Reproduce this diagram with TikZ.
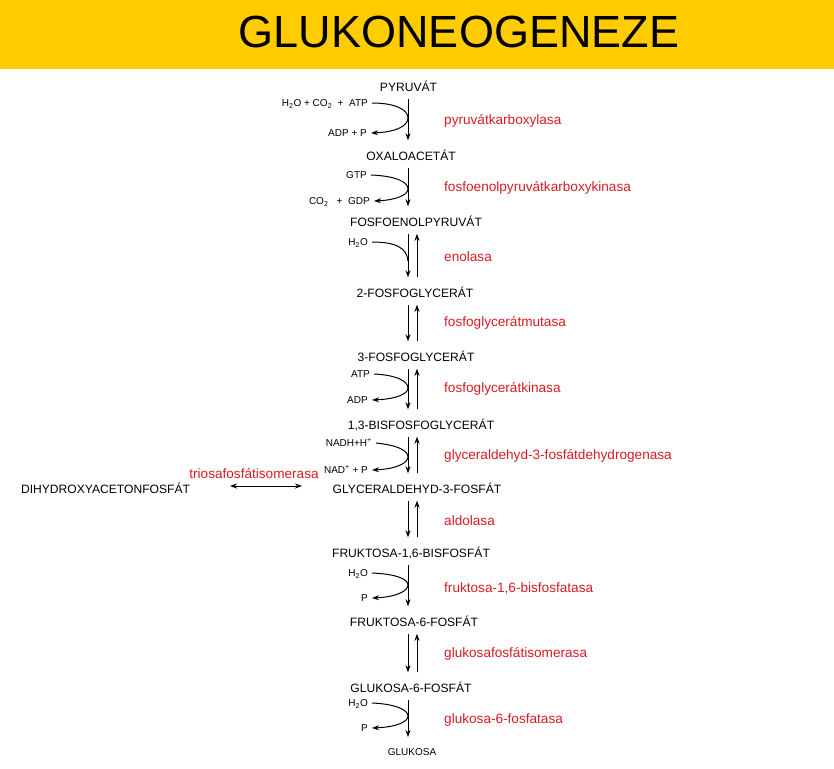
\documentclass[tikz,border=0pt]{standalone}
\usepackage{fontspec}
\setmainfont{Liberation Sans}
\usetikzlibrary{arrows.meta}
\definecolor{banner}{RGB}{255,204,0}
\definecolor{enz}{RGB}{212,28,36}
\begin{document}
\begin{tikzpicture}[x=1pt,y=-1pt,
  chem/.style={inner xsep=1pt, inner ysep=0pt, text height=9pt, text depth=0pt, font=\fontsize{12.1}{14}\selectfont},
  enzyme/.style={anchor=west, inner sep=0pt, text=enz, font=\fontsize{13.6}{15}\selectfont},
  reag/.style={anchor=east, inner sep=0pt, text height=7pt, text depth=0pt, font=\fontsize{10}{11}\selectfont},
  tip/.tip={Stealth[length=7pt,width=5pt]},
  arr/.style={-tip, line width=1pt},
  rev/.style={-tip, line width=1pt, shorten <=7pt, shorten >=11pt},
  revup/.style={-tip, line width=1pt, shorten <=11pt, shorten >=7pt},
  side/.style={-tip, line width=1pt},
]
\useasboundingbox (0,0) rectangle (834,768);
\fill[banner] (0,0) rectangle (834,69);
\node[font=\fontsize{45}{50}\selectfont] (title) at (459,32) {GLUKONEOGENEZE};

\coordinate (axd) at (408,0);
\coordinate (axu) at (417,0);

% metabolites
\node[chem] (pyr) at (408.5,87) {PYRUVÁT};
\node[chem] (oxa) at (411,156) {OXALOACETÁT};
\node[chem] (pep) at (416,222) {FOSFOENOLPYRUVÁT};
\node[chem] (pg2) at (415,293) {2-FOSFOGLYCERÁT};
\node[chem] (pg3) at (416,357) {3-FOSFOGLYCERÁT};
\node[chem] (bpg) at (421,425) {1,3-BISFOSFOGLYCERÁT};
\node[chem] (gap) at (417,489) {GLYCERALDEHYD-3-FOSFÁT};
\node[chem] (fbp) at (411,553) {FRUKTOSA-1,6-BISFOSFÁT};
\node[chem] (f6p) at (414,622) {FRUKTOSA-6-FOSFÁT};
\node[chem] (g6p) at (411,688) {GLUKOSA-6-FOSFÁT};
\node[chem, text height=7.5pt, font=\fontsize{10}{11}\selectfont] (glc) at (412,752) {GLUKOSA};
\node[chem] (dhap) at (105.5,489) {DIHYDROXYACETONFOSFÁT};

% enzymes
\node[enzyme] (e1) at (444,121) {pyruvátkarboxylasa};
\node[enzyme] (e2) at (444,188) {fosfoenolpyruvátkarboxykinasa};
\node[enzyme] (e3) at (444,257) {enolasa};
\node[enzyme] (e4) at (444,323) {fosfoglycerátmutasa};
\node[enzyme] (e5) at (444,389) {fosfoglycerátkinasa};
\node[enzyme] (e6) at (444,456) {glyceraldehyd-3-fosfátdehydrogenasa};
\node[enzyme] (e7) at (444,521) {aldolasa};
\node[enzyme] (e8) at (444,588) {fruktosa-1,6-bisfosfatasa};
\node[enzyme] (e9) at (444,654) {glukosafosfátisomerasa};
\node[enzyme] (e10) at (444,720) {glukosa-6-fosfatasa};
\node[enzyme, anchor=center] (e11) at (254,474) {triosafosfátisomerasa};

% reagents
\node[reag] (r1a) at (368,103) {H\textsubscript{2}O + CO\textsubscript{2} \ + \ ATP};
\node[reag] (r1b) at (367,133) {ADP + P};
\node[reag] (r2a) at (367,175) {GTP};
\node[reag] (r2b) at (370,201) {CO\textsubscript{2} \ \ + \ GDP};
\node[reag] (r3a) at (368,242) {H\textsubscript{2}O};
\node[reag] (r5a) at (370,374) {ATP};
\node[reag] (r5b) at (368,400) {ADP};
\node[reag] (r6a) at (372,443) {NADH+H\textsuperscript{+}};
\node[reag] (r6b) at (368,470) {NAD\textsuperscript{+} + P};
\node[reag] (r8a) at (368,573) {H\textsubscript{2}O};
\node[reag] (r8b) at (368,598) {P};
\node[reag] (r10a) at (368,703) {H\textsubscript{2}O};
\node[reag] (r10b) at (368,728) {P};

% irreversible steps
\draw[rev] (pyr.south -| axd) -- (oxa.north -| axd);
\draw[rev] (oxa.south -| axd) -- (pep.north -| axd);
\draw[rev] (fbp.south -| axd) -- (f6p.north -| axd);
\draw[rev] (g6p.south -| axd) -- (glc.north -| axd);

% reversible steps
\foreach \a/\b in {pep/pg2, pg2/pg3, pg3/bpg, bpg/gap, gap/fbp, f6p/g6p}{
  \draw[rev] (\a.south -| axd) -- (\b.north -| axd);
  \draw[revup] (\b.north -| axu) -- (\a.south -| axu);
}

% side curves
\draw[side] ([xshift=4pt]r1a.east) .. controls (396,103) and (408,110) .. (408,118)
  .. controls (408,126) and (396,132) .. ([xshift=4pt]r1b.east);
\draw[side] ([xshift=4pt]r2a.east) .. controls (396,176) and (408,182) .. (408,189)
  .. controls (408,195) and (396,200) .. ([xshift=4pt]r2b.east);
\draw[line width=1pt] ([xshift=4pt]r3a.east) .. controls (396,242) and (407,248) .. (408,261);
\draw[side] ([xshift=4pt]r5a.east) .. controls (396,375) and (408,381) .. (408,388)
  .. controls (408,394) and (396,399) .. ([xshift=4pt]r5b.east);
\draw[side] ([xshift=4pt]r6a.east) .. controls (396,445) and (408,450) .. (408,457)
  .. controls (408,463) and (396,469) .. ([xshift=4pt]r6b.east);
\draw[side] ([xshift=4pt]r8a.east) .. controls (396,574) and (408,579) .. (408,585)
  .. controls (408,591) and (396,597) .. ([xshift=4pt]r8b.east);
\draw[side] ([xshift=4pt]r10a.east) .. controls (396,704) and (408,710) .. (408,716)
  .. controls (408,722) and (396,727) .. ([xshift=4pt]r10b.east);

% triose phosphate isomerase
\coordinate (tl) at (230,486);
\coordinate (tr) at (302,486);
\draw[tip-tip, line width=1pt] (tl) -- (tr);
\end{tikzpicture}
\end{document}
